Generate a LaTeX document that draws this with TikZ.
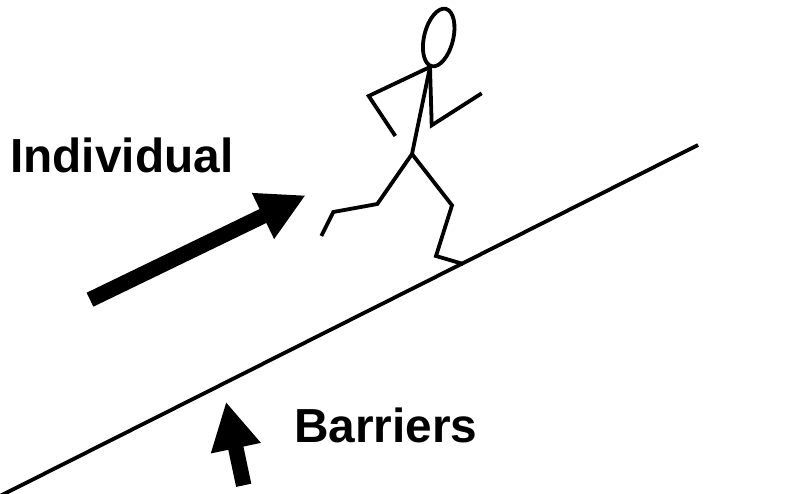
\documentclass[tikz,border=0pt]{standalone}
\usepackage{fontspec}
\setmainfont{Liberation Sans}
\usetikzlibrary{calc,positioning,arrows.meta,shapes.geometric}
\tikzset{
  limb/.style={black, line width=3.8pt, line join=miter, line cap=butt},
  fatarrow/.style={black, line width=15.5pt, -{Triangle[length=47.5pt,width=47.5pt,sep=0pt]}},
  caption/.style={font=\fontsize{47.8}{50}\selectfont\bfseries, text=black, anchor=base west, inner sep=0pt},
}

\begin{document}
\begin{tikzpicture}[x=1pt,y=-1pt]
  \useasboundingbox (0,0) rectangle (803,494);

  % Slope
  \coordinate (slopeLow) at (0,496);
  \coordinate (slopeHigh) at (698,145);
  \draw[limb] (slopeLow) -- (slopeHigh);

  % Labels
  \node[caption] (individual) at (10,173) {Individual};
  \node[caption] (barriers) at (294,442) {Barriers};

  % Big arrow: the runner's push
  \coordinate (pushTail) at (90,299.7);
  \coordinate (pushTip) at (305.7,195.3);
  \draw[fatarrow] (pushTail) -- (pushTip);

  % Small arrow: up from below the slope
  \coordinate (barrierTail) at (243.7,485.3);
  \coordinate (barrierTip) at (226,401.7);
  \draw[fatarrow] (barrierTail) -- (barrierTip);

  % Runner: head
  \node[draw, limb, ellipse, minimum width=29pt, minimum height=59pt, inner sep=0pt, rotate=-14] (head) at (438.7,37.5) {};

  % Runner: torso
  \coordinate (neck) at (430,67);
  \coordinate (hip) at (412,154);
  \draw[limb] (neck) -- (hip);

  % Runner: arms
  \coordinate (backElbow) at (368.7,96);
  \coordinate (backHand) at (395.3,136);
  \coordinate (frontElbow) at (431.7,125.3);
  \coordinate (frontHand) at (481.7,93.3);
  \draw[limb] (neck) -- (backElbow) -- (backHand);
  \draw[limb] (neck) -- (frontElbow) -- (frontHand);

  % Runner: legs
  \coordinate (backKnee) at (377.3,204);
  \coordinate (backHeel) at (333.3,212);
  \coordinate (backToe) at (321.3,236);
  \coordinate (frontKnee) at (452,205.3);
  \coordinate (frontHeel) at (436,256);
  \coordinate (frontToe) at (463.3,264);
  \draw[limb] (hip) -- (backKnee) -- (backHeel) -- (backToe);
  \draw[limb] (hip) -- (frontKnee) -- (frontHeel) -- (frontToe);
\end{tikzpicture}
\end{document}
